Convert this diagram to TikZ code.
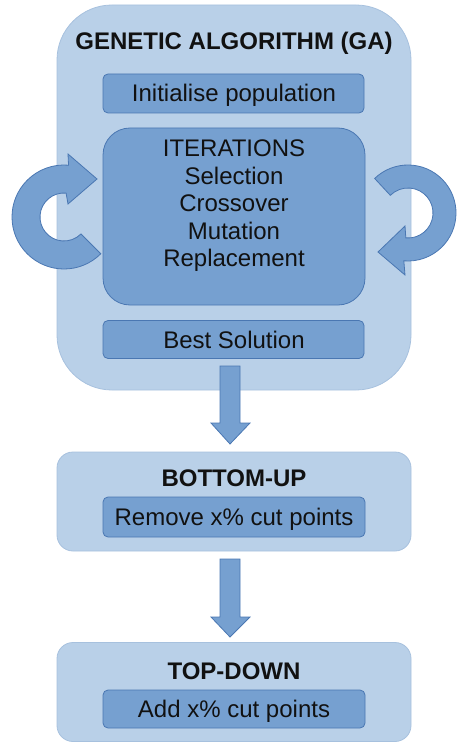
\documentclass[tikz,border=0pt]{standalone}
\usepackage{fontspec}
\setmainfont{Liberation Sans}
\usetikzlibrary{calc}
\definecolor{lightfill}{HTML}{B9D0E8}
\definecolor{lightline}{HTML}{A7C1DE}
\definecolor{darkfill}{HTML}{76A0D0}
\definecolor{darkline}{HTML}{4A77B2}
\definecolor{txt}{HTML}{111111}
\begin{document}
\begin{tikzpicture}[x=1pt,y=-1pt,
  outerbox/.style={draw=lightline, fill=lightfill, line width=0.8pt, inner sep=0, outer sep=0},
  innerbox/.style={draw=darkline, fill=darkfill, line width=0.8pt, rounded corners=5pt, inner sep=0, outer sep=0},
  lbl/.style={font=\fontsize{24}{27.5}\selectfont, text=txt, inner sep=0, anchor=base},
  ttl/.style={font=\fontsize{24}{27.5}\selectfont\bfseries, text=txt, inner sep=0, anchor=base},
  blockarrow/.style={draw=darkline, fill=darkfill, line width=0.8pt, line join=miter}]
\useasboundingbox (0,0) rectangle (456,743);

% GA container
\node[outerbox, rounded corners=55pt, minimum width=354pt, minimum height=385pt] (ga) at (234,197.5) {};

% curved arrows
\coordinate (lc) at (64,217);
\coordinate (rc) at (408,213);
\draw[blockarrow] ($(lc)+(45:52)$) arc[start angle=45, end angle=275, radius=52]
  -- (68,154) -- (97,179) -- (68,204) -- ($(lc)+(275:24)$)
  arc[start angle=275, end angle=45, radius=24] -- cycle;
\draw[blockarrow] ($(rc)+(226:48)$) arc[start angle=226, end angle=455, radius=48]
  -- (405,275) -- (378,252) -- (405,226) -- ($(rc)+(455:25)$)
  arc[start angle=455, end angle=225, radius=25] -- cycle;

\node[ttl] (gatitle) at (234,49.7) {GENETIC ALGORITHM (GA)};
\node[innerbox, minimum width=261pt, minimum height=39pt] (init) at (233.5,93.5) {};
\node[lbl] (initt) at (234,101.7) {Initialise population};

\node[innerbox, rounded corners=27pt, minimum width=262pt, minimum height=177pt] (iter) at (234,216.5) {};
\node[lbl] (it1) at (234,156.7) {ITERATIONS};
\node[lbl] (it2) at (234,184.2) {Selection};
\node[lbl] (it3) at (234,211.7) {Crossover};
\node[lbl] (it4) at (234,239.2) {Mutation};
\node[lbl] (it5) at (234,266.7) {Replacement};

\node[innerbox, minimum width=261pt, minimum height=38pt] (best) at (233.5,339.5) {};
\node[lbl] (bestt) at (234,348.3) {Best Solution};

% bottom-up
\node[outerbox, rounded corners=16pt, minimum width=354pt, minimum height=99pt] (bu) at (234,501.5) {};
\node[ttl] (butitle) at (234,486) {BOTTOM-UP};
\node[innerbox, minimum width=262pt, minimum height=40pt] (buin) at (234,517) {};
\node[lbl] (buint) at (234,525.5) {Remove x\% cut points};

% top-down
\node[outerbox, rounded corners=16pt, minimum width=354pt, minimum height=99pt] (td) at (234,692) {};
\node[ttl] (tdtitle) at (234,679) {TOP-DOWN};
\node[innerbox, minimum width=262pt, minimum height=38pt] (tdin) at (234,709) {};
\node[lbl] (tdint) at (234,717.5) {Add x\% cut points};

% block arrows between stages
\draw[blockarrow] (220,366) -- (240,366) -- (240,423) -- (250,423) -- (230,444) -- (211,423) -- (220,423) -- cycle;
\draw[blockarrow] (220,559) -- (240,559) -- (240,617) -- (250,617) -- (230,637) -- (211,617) -- (220,617) -- cycle;
\end{tikzpicture}
\end{document}
